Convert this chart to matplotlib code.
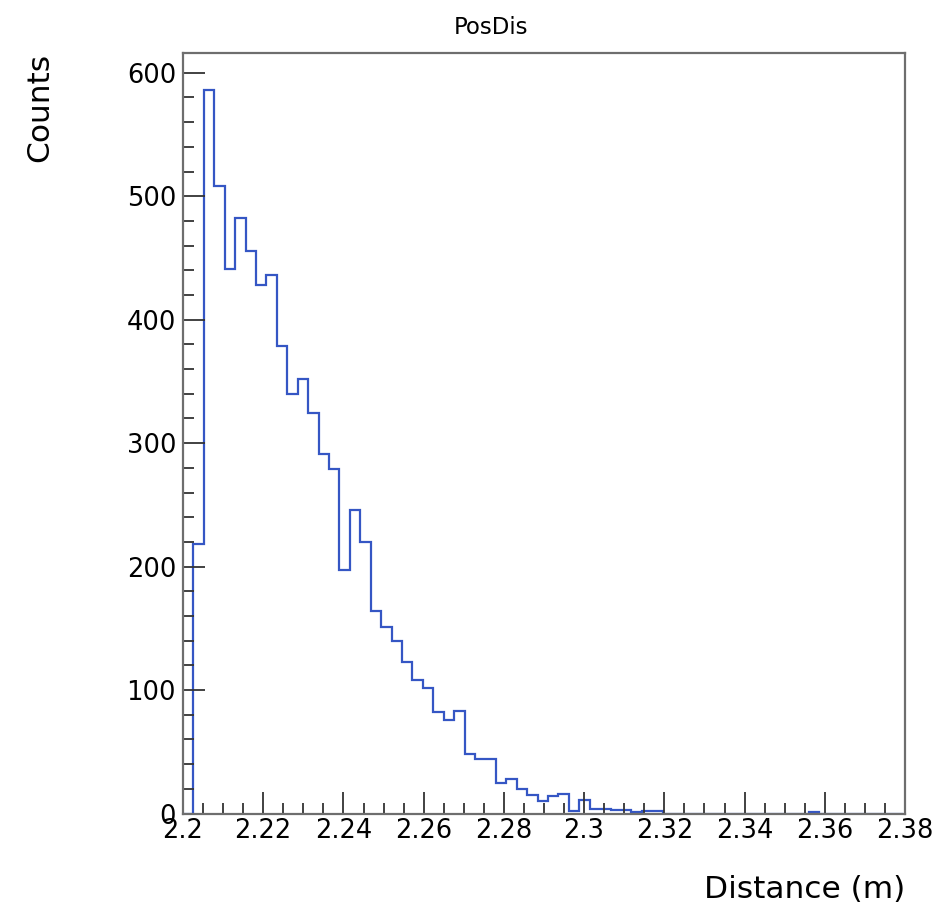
import matplotlib.pyplot as plt
import numpy as np
from matplotlib.ticker import MultipleLocator, FuncFormatter

# Histogram "PosDis": bin contents
bin_start = 2.2
bin_width = 0.0026
counts = [
    0, 218, 586, 508, 441, 482, 456, 428, 436, 379,
    340, 352, 324, 291, 279, 197, 246, 220, 164, 151,
    140, 123, 108, 102, 82, 76, 83, 48, 44, 44,
    25, 28, 20, 15, 10, 14, 16, 2, 11, 4,
    4, 3, 3, 1, 2, 2, 0, 0, 0, 0,
    0, 0, 0, 0, 0, 0, 0, 0, 0, 0,
    1, 0, 0, 0, 0, 0, 0, 0, 0,
]
x_range = (2.2, 2.38)
y_range = (0, 616)
title = "PosDis"
x_title = "Distance (m)"
y_title = "Counts"

plt.rcParams["font.family"] = ["DejaVu Sans"]

edges = bin_start + bin_width * np.arange(len(counts) + 1)

W, H = 939, 916
fig = plt.figure(figsize=(W / 100, H / 100), dpi=100)
ax = fig.add_axes([183 / W, 1 - 813.5 / H, 722 / W, (813.5 - 53) / H])

ax.stairs(counts, edges, color="#3556c4", linewidth=1.6)

ax.set_xlim(*x_range)
ax.set_ylim(*y_range)

frame_col = "#6e6e6e"
for sp in ax.spines.values():
    sp.set_color(frame_col)
    sp.set_linewidth(1.6)

ax.xaxis.set_major_locator(MultipleLocator(0.02))
ax.xaxis.set_minor_locator(MultipleLocator(0.005))
ax.yaxis.set_major_locator(MultipleLocator(100))
ax.yaxis.set_minor_locator(MultipleLocator(20))
ax.xaxis.set_major_formatter(FuncFormatter(lambda v, p: f"{v:.2f}".rstrip("0").rstrip(".")))

ax.tick_params(which="both", direction="in", color="#333333", width=1.3,
               top=False, right=False, labelsize=18.5)
ax.tick_params(which="major", length=16)
ax.tick_params(which="minor", length=8)
ax.tick_params(axis="x", pad=3)
ax.tick_params(axis="y", pad=5)

fig.text(491 / W, 1 - 27 / H, title, ha="center", va="center", fontsize=16.5)
fig.text(40 / W, 1 - 53 / H, y_title, rotation=90, ha="center", va="top", fontsize=22.5)
fig.text(905 / W, 1 - 890 / H, x_title, ha="right", va="center", fontsize=22.5)

fig.savefig("out.png", dpi=100)
